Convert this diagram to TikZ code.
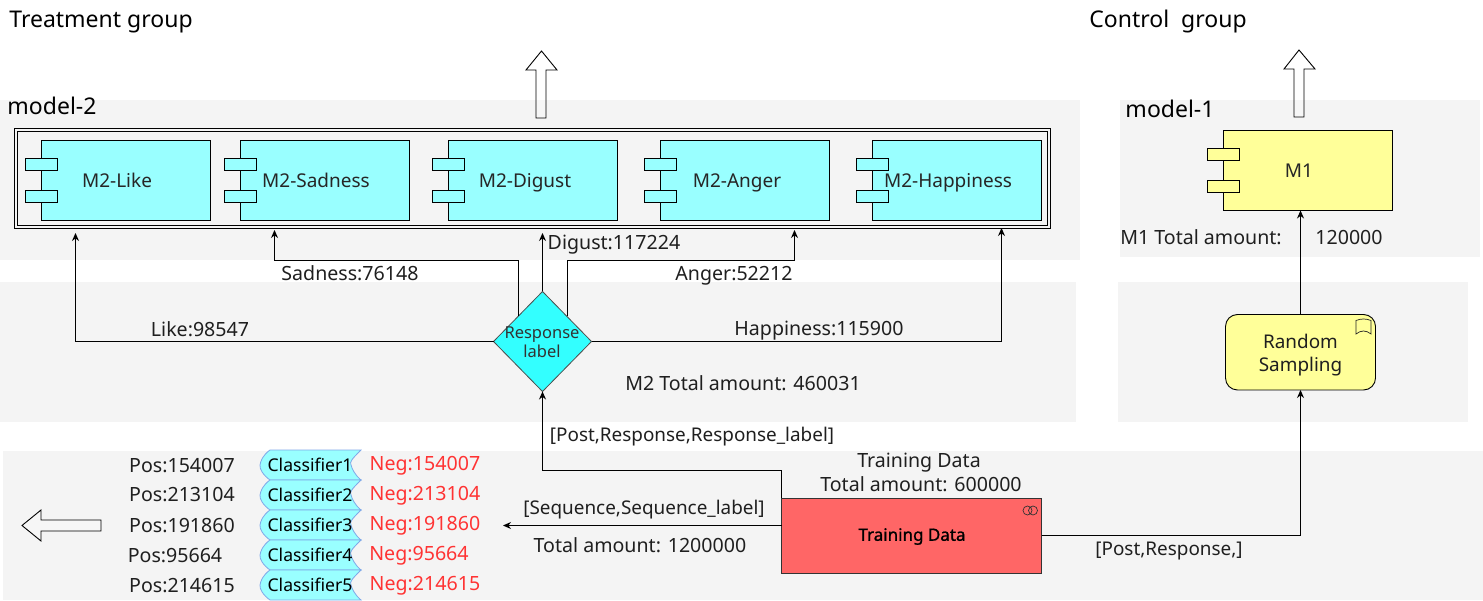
\documentclass[tikz,border=0pt]{standalone}
\usepackage{fontspec}
\setmainfont{Noto Sans}
\newfontfamily\fakebold[FakeBold=1.2]{Noto Sans}
\usetikzlibrary{arrows.meta,calc,shapes.geometric}
\definecolor{panel}{HTML}{F4F4F4}
\definecolor{cyanbox}{HTML}{99FFFF}
\definecolor{yelbox}{HTML}{FFFF99}
\definecolor{redbox}{HTML}{FF6666}
\definecolor{diafill}{HTML}{33FFFF}
\definecolor{negred}{HTML}{FF3333}
\definecolor{clsline}{HTML}{7FA8E8}
\tikzset{
  every node/.style={outer sep=0pt},
  compbody/.style={draw=black,line width=.9pt,minimum width=169pt,minimum height=80pt,inner sep=0pt,anchor=north west},
  comptab/.style={draw=black,line width=.9pt,minimum width=32pt,minimum height=12pt,inner sep=0pt,anchor=north west},
  conn/.style={draw=black,line width=.9pt,-{Stealth[length=8pt,width=7pt]}},
  bigarrow/.style={draw=black,line width=.9pt,fill=white,fill opacity=.25},
  oneline/.style={inner sep=0pt,text height=.75em,text depth=.2em,yshift=-4pt},
  lab/.style={font=\fontsize{19.6}{23}\selectfont,text=black!88,oneline},
  brlab/.style={font=\fontsize{18.9}{23}\selectfont,text=black!88,oneline},
  title/.style={font=\fontsize{23}{27}\selectfont,text=black,oneline,yshift=-1.5pt},
  complab/.style={font=\fontsize{19}{22}\selectfont,text=black!85,oneline},
  clslab/.style={font=\fontsize{17.6}{20}\selectfont,text=black,oneline},
  neglab/.style={lab,text=negred},
  clsbox/.style={draw=clsline,line width=.8pt,fill=cyanbox}
}
\begin{document}
\begin{tikzpicture}[x=1pt,y=-1pt]
\useasboundingbox (0,0) rectangle (1483,601);
% panels
\fill[panel] (0,100) rectangle (1080,260);
\fill[panel] (0,282) rectangle (1076,422);
\fill[panel] (3,451) rectangle (1483,600);
\fill[panel] (1120,100) rectangle (1480,257);
\fill[panel] (1118,282) rectangle (1468,422);
% titles
\node[title] (ttreat) at (101,19) {Treatment group};
\node[title] (tctrl) at (1168,19) {Control\ \ group};
\node[title] (tm2) at (52,106) {model-2};
\node[title] (tm1) at (1170,109) {model-1};
% big hollow arrows
\draw[bigarrow] (541.5,51) -- (557,70) -- (546,70) -- (546,118) -- (536,118) -- (536,70) -- (526,70) -- cycle;
\draw[bigarrow] (1299,50) -- (1315,69) -- (1304,69) -- (1304,117) -- (1294,117) -- (1294,69) -- (1284,69) -- cycle;
\draw[bigarrow] (22,525.5) -- (41,510) -- (41,520) -- (101,520) -- (101,531) -- (41,531) -- (41,541) -- cycle;
% frame
\node[draw=black,line width=.9pt,minimum width=1036pt,minimum height=100pt,inner sep=0pt,anchor=north west] (frame) at (14.5,128.5) {};
\node[draw=black,line width=.9pt,minimum width=1030pt,minimum height=94pt,inner sep=0pt,anchor=north west] (frameinner) at (17.5,131.5) {};
% components
\foreach \nm/\bx/\cx/\tx in {like/41.5/117/M2-Like,sad/240.5/316/M2-Sadness,dig/448.5/525/M2-Digust,ang/660.5/737/M2-Anger,hap/872.5/948/M2-Happiness}{
  \node[compbody,fill=cyanbox] (\nm) at (\bx,140.5) {};
  \node[comptab,fill=cyanbox] (\nm a) at (\bx-16,158.5) {};
  \node[comptab,fill=cyanbox] (\nm b) at (\bx-16,190.5) {};
  \node[complab] (\nm t) at (\cx,180.5) {\tx};
}
\node[compbody,fill=yelbox] (mone) at (1223.5,130.5) {};
\node[comptab,fill=yelbox] (monea) at (1207.5,148.5) {};
\node[comptab,fill=yelbox] (moneb) at (1207.5,180.5) {};
\node[complab] (monet) at (1299,170.5) {M1};
% training data
\node[draw=black!80,line width=1pt,fill=redbox,minimum width=260pt,minimum height=75pt,inner sep=0pt,anchor=north west] (train) at (781.5,498) {};
\node[font=\fakebold\fontsize{17}{20}\selectfont,text=black,oneline] (traint) at (912,534) {Training Data};
\draw[line width=.7pt,draw=black!80] (1027.5,510.5) circle (4.5pt) (1033,510.5) circle (4.5pt);
% random sampling
\node[draw=black,line width=.9pt,fill=yelbox,rounded corners=12pt,minimum width=150pt,minimum height=75.5pt,inner sep=0pt,anchor=north west] (rand) at (1225.5,314.5) {};
\node[inner sep=0pt,align=center,font=\fontsize{18.9}{23}\selectfont,text=black!88] (randlab) at (1300.5,355) {Random\\Sampling};
\draw[line width=.7pt,draw=black!85] (1356,320.5) .. controls (1361,318.5) and (1366,318.5) .. (1371,320.5) -- (1371,334) .. controls (1366,330) and (1361,330) .. (1356,334) -- cycle;
% connector ends
\coordinate (eLike) at (75.5,233);
\coordinate (eSad) at (274.5,230);
\coordinate (eDig) at (542.5,233);
\coordinate (eAng) at (794.5,230);
\coordinate (eHap) at (1001.5,228);
\coordinate (sSad) at (518.5,316);
\coordinate (sAng) at (567.5,316);
\coordinate (eLeft) at (503,525.5);
\coordinate (sTop) at (781.5,498);
\coordinate (sLeft) at (781.5,525.5);
\coordinate (sRand) at (1300.5,314.5);
\coordinate (eRand) at (1300.5,390);
\coordinate (eMone) at (1300.5,210.5);
% diamond
\node[diamond,aspect=1,draw=black!70,line width=.8pt,fill=diafill,minimum width=98pt,minimum height=100pt,inner sep=0pt] (dia) at (542.5,341.5) {};
\node[align=center,font=\fontsize{16.5}{19}\selectfont,text=black!80,inner sep=0pt] (dialab) at (542,342) {Response\\label};
% connectors
\draw[conn] (dia.west) -- (75.5,341.5) -- (eLike);
\draw[conn] (sSad) -- (518.5,260.5) -- (274.5,260.5) -- (eSad);
\draw[conn] (dia.north) -- (eDig);
\draw[conn] (sAng) -- (567.5,260.5) -- (794.5,260.5) -- (eAng);
\draw[conn] (dia.east) -- (1001.5,341.5) -- (eHap);
\draw[conn] (sTop) -- (781.5,470.5) -- (542.5,470.5) -- (dia.south);
\draw[conn] (sLeft) -- (eLeft);
\draw[conn] (train.east) -- (1300.5,535.5) -- (eRand);
\draw[conn] (sRand) -- (eMone);
% labels
\node[lab] (l1) at (1201,238) {M1 Total amount:};
\node[lab] (l2) at (1349,238) {120000};
\node[lab] (l3) at (614,243) {Digust:117224};
\node[lab] (l4) at (350,274) {Sadness:76148};
\node[lab] (l5) at (734,274) {Anger:52212};
\node[lab] (l6) at (200,330) {Like:98547};
\node[lab] (l7) at (819,329) {Happiness:115900};
\node[lab] (l8) at (743,384) {M2 Total amount: 460031};
\node[brlab] (l9) at (692,435) {[Post,Response,Response\_label]};
\node[lab] (l10) at (919,461) {Training Data};
\node[lab] (l11) at (921,485) {Total amount: 600000};
\node[brlab] (l12) at (644,508) {[Sequence,Sequence\_label]};
\node[lab] (l13) at (640,546) {Total amount: 1200000};
\node[brlab] (l14) at (1169,549) {[Post,Response,]};
% classifiers
\foreach \i/\yy/\pos/\py/\px/\neg/\ny/\nx in {1/450/154007/466/182/154007/464/425,2/480/213104/495/182/213104/494/425,3/510/191860/526/182/191860/524/425,4/540/95664/556/175/95664/554/419,5/570/214615/586/182/214615/584/425}{
  \draw[clsbox] (270,\yy) -- (361,\yy) .. controls (353,\yy+8) and (349,\yy+12) .. (351,\yy+15) .. controls (352,\yy+19) and (355,\yy+25) .. (361,\yy+30) -- (270,\yy+30) .. controls (263,\yy+25) and (259.5,\yy+19) .. (260,\yy+15) .. controls (260.5,\yy+11) and (263,\yy+5) .. (270,\yy) -- cycle;
  \node[clslab] (c\i) at (310,\yy+15) {Classifier\i};
  \node[lab] (p\i) at (\px,\py) {Pos:\pos};
  \node[neglab] (n\i) at (\nx,\ny) {Neg:\neg};
}
\end{tikzpicture}
\end{document}
